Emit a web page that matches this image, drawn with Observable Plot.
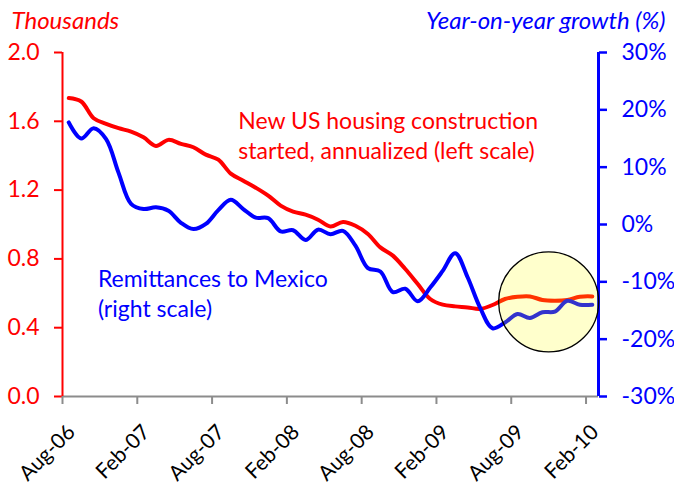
<!DOCTYPE html>
<html>
<head>
<meta charset="utf-8">
<script src="https://cdn.jsdelivr.net/npm/d3@7"></script>
<script src="https://cdn.jsdelivr.net/npm/@observablehq/plot@0.6"></script>
<style>
  html, body { margin: 0; padding: 0; background: #fff; }
  #chart svg { display: block; }
</style>
</head>
<body>
<div id="chart"></div>
<script>
// Monthly observations, Aug-06 .. Feb-10
const months = ["Aug-06","Sep-06","Oct-06","Nov-06","Dec-06","Jan-07","Feb-07","Mar-07","Apr-07","May-07","Jun-07","Jul-07",
  "Aug-07","Sep-07","Oct-07","Nov-07","Dec-07","Jan-08","Feb-08","Mar-08","Apr-08","May-08","Jun-08","Jul-08",
  "Aug-08","Sep-08","Oct-08","Nov-08","Dec-08","Jan-09","Feb-09","Mar-09","Apr-09","May-09","Jun-09","Jul-09",
  "Aug-09","Sep-09","Oct-09","Nov-09","Dec-09","Jan-10","Feb-10"];

// New US housing starts, annualized (thousands) - left scale
const housingStarts = [1.735,1.715,1.618,1.585,1.56,1.54,1.507,1.457,1.492,1.469,1.449,1.406,
  1.377,1.296,1.255,1.214,1.168,1.11,1.075,1.057,1.028,0.988,1.015,0.993,
  0.945,0.867,0.819,0.741,0.654,0.567,0.534,0.524,0.518,0.509,0.532,0.567,
  0.58,0.582,0.561,0.557,0.561,0.58,0.582];

// Remittances to Mexico, year-on-year growth (%) - right scale
const remittancesGrowth = [17.8,15.0,16.8,14.9,9.0,3.6,2.7,3.0,2.4,0.3,-0.8,0.1,
  2.5,4.3,2.7,1.2,1.1,-1.2,-1.0,-2.7,-0.9,-1.7,-1.1,-3.7,
  -7.6,-8.2,-11.8,-11.2,-13.4,-11.0,-8.1,-5.0,-9.2,-14.5,-18.1,-17.1,
  -15.6,-16.3,-15.3,-15.2,-13.3,-14.0,-14.0];

const xTickLabels = ["Aug-06","Feb-07","Aug-07","Feb-08","Aug-08","Feb-09","Aug-09","Feb-10"];
const leftTicks = [0, 0.4, 0.8, 1.2, 1.6, 2.0];
const rightTicks = [-30, -20, -10, 0, 10, 20, 30];

const leftTitle = "Thousands";
const rightTitle = "Year-on-year growth (%)";
const housingLabel = "New US housing construction\nstarted, annualized (left scale)";
const remitLabel = "Remittances to Mexico\n(right scale)";
const housingLabelAt = {month: "Oct-07", value: 1.383};
const remitLabelAt = {month: "Oct-06", value: 0.464};
const highlight = {month: "Nov-09", value: 0.55};

// map right-scale percentages onto the left scale
const rightToLeft = d3.scaleLinear([-30, 30], [0, 2]);
const idx = (m) => months.indexOf(m);

const data = months.map((m, i) => ({month: m, i, starts: housingStarts[i], growth: remittancesGrowth[i]}));

const font = "Lato, 'Open Sans', sans-serif";
const xTickPositions = xTickLabels.map((d) => idx(d));

const chart = Plot.plot({
  width: 674,
  height: 488,
  marginTop: 52,
  marginBottom: 92,
  marginLeft: 62,
  marginRight: 76,
  style: {fontFamily: font, fontSize: "22px", background: "#fff", overflow: "visible"},
  x: {domain: [0, months.length], axis: null},
  y: {domain: [0, 2], axis: null},
  marks: [
    // left axis
    Plot.axisY({anchor: "left", ticks: leftTicks, tickFormat: d3.format(".1f"), color: "red", stroke: "red", fill: "red",
      tickSize: 8, tickPadding: 15, strokeWidth: 2, label: null, fontSize: 23}),
    // right axis
    Plot.axisY({anchor: "right", ticks: rightTicks.map(rightToLeft), tickFormat: (v) => `${Math.round(rightToLeft.invert(v))}%`,
      color: "blue", stroke: "blue", fill: "blue", tickSize: 8, tickPadding: 15, strokeWidth: 2.5, label: null, fontSize: 23}),
    // bottom axis: tick marks
    Plot.axisX({ticks: xTickPositions, tickFormat: () => "", stroke: "#8c8c8c", tickSize: 8, strokeWidth: 2, label: null}),
    // bottom axis: rotated labels
    Plot.axisX({ticks: xTickPositions, tickFormat: (v) => months[v], fill: "#000", stroke: "none",
      tickSize: 0, tickPadding: 32, tickRotate: -45, dx: 9, label: null, fontSize: 21}),
    Plot.ruleY([0], {stroke: "#8c8c8c", strokeWidth: 2}),
    Plot.ruleX([0], {stroke: "red", strokeWidth: 2}),
    Plot.ruleX([months.length], {stroke: "blue", strokeWidth: 3}),
    // series
    Plot.line(data, {x: (d) => d.i + 0.5, y: "starts", stroke: "red", strokeWidth: 4, curve: "catmull-rom"}),
    Plot.line(data, {x: (d) => d.i + 0.5, y: (d) => rightToLeft(d.growth), stroke: "blue", strokeWidth: 4, curve: "catmull-rom"}),
    // highlight circle
    Plot.dot([highlight], {x: (d) => idx(d.month), y: "value", r: 50, fill: "#ffff00", fillOpacity: 0.2, stroke: "#000", strokeWidth: 1.3}),
    // series labels
    Plot.text([housingLabelAt], {x: (d) => idx(d.month) + 0.1, y: "value", text: () => housingLabel, fill: "red",
      textAnchor: "start", lineAnchor: "bottom", lineHeight: 1.3, fontSize: 23}),
    Plot.text([remitLabelAt], {x: (d) => idx(d.month) + 0.84, y: "value", text: () => remitLabel, fill: "blue",
      textAnchor: "start", lineAnchor: "bottom", lineHeight: 1.3, fontSize: 23}),
    // axis titles
    Plot.text([leftTitle], {frameAnchor: "top-left", text: (d) => d, dx: -51, dy: -24, textAnchor: "start", lineAnchor: "bottom",
      fill: "red", fontStyle: "italic", fontSize: 24}),
    Plot.text([rightTitle], {frameAnchor: "top-right", text: (d) => d, dx: 67, dy: -24, textAnchor: "end", lineAnchor: "bottom",
      fill: "blue", fontStyle: "italic", fontSize: 24})
  ]
});

document.getElementById("chart").append(chart);
</script>
</body>
</html>
